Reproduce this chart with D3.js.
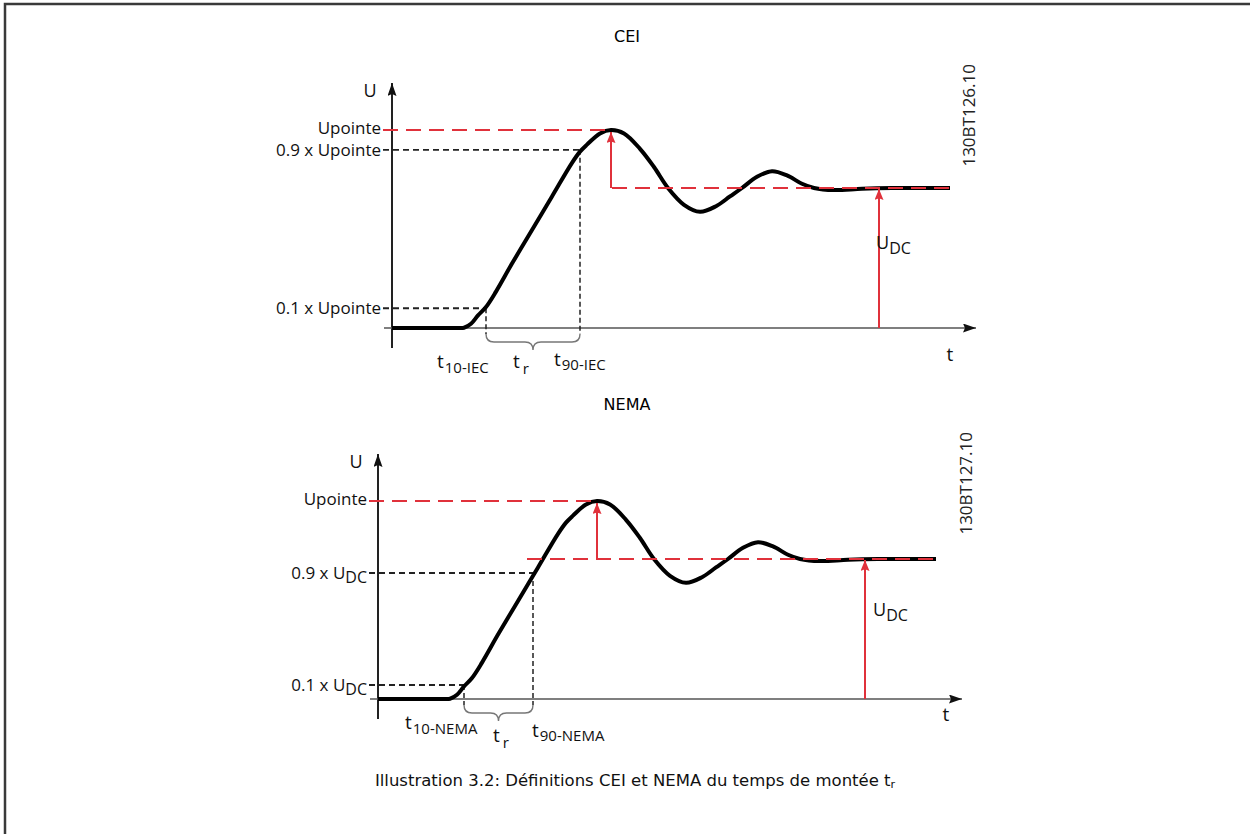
<!DOCTYPE html>
<html>
<head>
<meta charset="utf-8">
<script src="https://cdn.jsdelivr.net/npm/d3@7"></script>
<style>
  body { margin: 0; background: #fff; }
  svg { display: block; }
</style>
</head>
<body>
<svg id="chart" width="1250" height="834"></svg>
<script>
// Waveform (same shape in both panels): time offset from the U axis, voltage in U_DC units
const tPoints = [0, 40, 66, 72, 79, 86, 94, 104, 120, 140, 160, 180, 188, 195, 208, 219, 232, 248, 262, 276, 292, 308, 324, 338, 350, 365, 380, 395, 410, 422, 442, 470, 500, 530, 558];
const uPoints = [0, 0, 0, 0.002, 0.03, 0.09, 0.15, 0.26, 0.46, 0.70, 0.94, 1.18, 1.26, 1.31, 1.39, 1.414, 1.39, 1.28, 1.15, 1.0, 0.88, 0.83, 0.87, 0.94, 1.0, 1.08, 1.12, 1.09, 1.03, 1.0, 0.985, 0.995, 1.0, 1.0, 1.0];

const titles = ["CEI", "NEMA"];
const codes = ["130BT126.10", "130BT127.10"];
const uPeak = 1.414;
const uDC = 1.0;
const tPeak = 219;
const tDC = 487;
const tEnd = 558;
const tAxisEnd = 584;
const lowLevels = [0.141, 0.1];    // 0.1 x Upointe, 0.1 x UDC
const highLevels = [1.273, 0.9];   // 0.9 x Upointe, 0.9 x UDC
const t10 = [94, 86];
const t90 = [188, 155];
const dcDashStart = [220, 149];
const levelLabels = [
  ["Upointe", "0.9 x Upointe", "0.1 x Upointe"],
  ["Upointe", "0.9 x U|DC", "0.1 x U|DC"]
];
const timeLabels = [["10-IEC", "90-IEC"], ["10-NEMA", "90-NEMA"]];
const caption = "Illustration 3.2: Définitions CEI et NEMA du temps de montée t";

const wave = tPoints.map((t, i) => ({t: t, u: uPoints[i]}));

// panel layout
const panels = [
  {ox: 392, base: 328, titleY: 42, codeX: 975, codeY: 64, tLab: [558, 33],
   t10Lab: [437, 40], trLab: [513, 40], t90Lab: [554, 38], dcLab: [-3, -79]},
  {ox: 378, base: 699, titleY: 410, codeX: 972, codeY: 432, tLab: [568, 22],
   t10Lab: [405, 30], trLab: [493, 43], t90Lab: [532, 38], dcLab: [8, -83]}
];

const red = "#e0313b";
const svg = d3.select("#chart");

// frame
svg.append("path")
  .attr("d", "M5,834V4H1250")
  .attr("fill", "none")
  .attr("stroke", "#3a3a3a")
  .attr("stroke-width", 2.5);

const defs = svg.append("defs");
function addMarker(id, color, w, h) {
  defs.append("marker")
    .attr("id", id)
    .attr("markerUnits", "userSpaceOnUse")
    .attr("viewBox", `0 ${-w/2} ${h} ${w}`)
    .attr("refX", h).attr("refY", 0)
    .attr("markerWidth", h).attr("markerHeight", w)
    .attr("orient", "auto")
    .append("path")
    .attr("d", `M0,${-w/2}L${h},0L0,${w/2}L${h*0.15},0Z`)
    .attr("fill", color);
}
addMarker("axisArrow", "#111", 9, 13);
addMarker("redArrow", red, 9, 11);

function subText(g, x, y, main, sub, size, subSize, dy, gap) {
  const t = g.append("text")
    .attr("x", x).attr("y", y)
    .attr("font-family", "'Open Sans', sans-serif")
    .attr("font-size", size)
    .attr("fill", "#111");
  t.append("tspan").text(main);
  t.append("tspan").attr("dx", gap || 0).attr("dy", dy).attr("font-size", subSize).text(sub);
  return t;
}

panels.forEach((p, k) => {
  const x = d3.scaleLinear().domain([0, 600]).range([p.ox, p.ox + 600]);
  const y = d3.scaleLinear().domain([0, 1]).range([p.base, p.base - 140]);
  const g = svg.append("g");

  // title
  g.append("text")
    .attr("x", 627).attr("y", p.titleY)
    .attr("text-anchor", "middle")
    .attr("font-family", "'DejaVu Sans', sans-serif")
    .attr("font-size", 16)
    .text(titles[k]);

  // code, rotated
  g.append("text")
    .attr("transform", `translate(${p.codeX},${p.codeY}) rotate(-90)`)
    .attr("text-anchor", "end")
    .attr("font-family", "'Open Sans', sans-serif")
    .attr("font-size", 17)
    .attr("fill", "#222")
    .text(codes[k]);

  // axes
  g.append("line")
    .attr("x1", x(0)).attr("x2", x(0))
    .attr("y1", p.base + 20).attr("y2", y(uPeak) - 47)
    .attr("stroke", "#222").attr("stroke-width", 2)
    .attr("marker-end", "url(#axisArrow)");
  g.append("line")
    .attr("x1", x(0) - 8).attr("x2", x(tAxisEnd))
    .attr("y1", y(0)).attr("y2", y(0))
    .attr("stroke", "#555").attr("stroke-width", 1.6)
    .attr("marker-end", "url(#axisArrow)");

  g.append("text")
    .attr("x", x(0) - 22).attr("y", p.base - 231)
    .attr("text-anchor", "middle")
    .attr("font-family", "'Open Sans', sans-serif")
    .attr("font-size", 18).attr("fill", "#111")
    .text("U");
  g.append("text")
    .attr("x", x(p.tLab[0])).attr("y", p.base + p.tLab[1])
    .attr("text-anchor", "middle")
    .attr("font-family", "'Open Sans', sans-serif")
    .attr("font-size", 19).attr("fill", "#111")
    .text("t");

  // black dashed guides for 10% / 90%
  const guides = [[lowLevels[k], t10[k]], [highLevels[k], t90[k]]];
  guides.forEach(([lv, tt]) => {
    g.append("path")
      .attr("d", `M${x(0) - 9},${y(lv)}H${x(tt)}`)
      .attr("fill", "none").attr("stroke", "#222")
      .attr("stroke-width", 1.8).attr("stroke-dasharray", "6,4");
    g.append("path")
      .attr("d", `M${x(tt)},${y(lv)}V${p.base + 6}`)
      .attr("fill", "none").attr("stroke", "#222")
      .attr("stroke-width", 1.5).attr("stroke-dasharray", "5,3");
  });

  // waveform
  const line = d3.line().x(d => x(d.t)).y(d => y(d.u)).curve(d3.curveCatmullRom.alpha(0.5));
  g.append("path")
    .datum(wave)
    .attr("d", line)
    .attr("fill", "none")
    .attr("stroke", "#000")
    .attr("stroke-width", 4)
    .attr("stroke-linejoin", "round");

  // red dashed levels (drawn over the curve)
  g.append("path")
    .attr("d", `M${x(0) - 9},${y(uPeak)}H${x(tPeak)}`)
    .attr("fill", "none").attr("stroke", red)
    .attr("stroke-width", 2).attr("stroke-dasharray", "15,8");
  g.append("path")
    .attr("d", `M${x(dcDashStart[k])},${y(uDC)}H${x(tEnd)}`)
    .attr("fill", "none").attr("stroke", red)
    .attr("stroke-width", 2).attr("stroke-dasharray", "15,8");

  // red arrows
  g.append("line")
    .attr("x1", x(tPeak)).attr("x2", x(tPeak))
    .attr("y1", y(uDC)).attr("y2", y(uPeak) + 2)
    .attr("stroke", red).attr("stroke-width", 2)
    .attr("marker-end", "url(#redArrow)");
  g.append("line")
    .attr("x1", x(tDC)).attr("x2", x(tDC))
    .attr("y1", y(0)).attr("y2", y(uDC) + 1)
    .attr("stroke", red).attr("stroke-width", 2)
    .attr("marker-end", "url(#redArrow)");

  // brace between t10 and t90
  const bx1 = x(t10[k]), bx2 = x(t90[k]), bm = (bx1 + bx2) / 2;
  const yT = p.base + 6, yF = p.base + 14, yP = p.base + 22;
  g.append("path")
    .attr("d", `M${bx1},${yT}Q${bx1},${yF} ${bx1 + 8},${yF}H${bm - 8}Q${bm},${yF} ${bm},${yP}` +
               `Q${bm},${yF} ${bm + 8},${yF}H${bx2 - 8}Q${bx2},${yF} ${bx2},${yT}`)
    .attr("fill", "none").attr("stroke", "#777").attr("stroke-width", 1.4);

  // level labels (the peak label sits a touch higher)
  const levels = [uPeak, highLevels[k], lowLevels[k]];
  levels.forEach((lv, i) => {
    const parts = levelLabels[k][i].split("|");
    const t = g.append("text")
      .attr("x", x(0) - 11).attr("y", y(lv) + (i === 0 ? 4 : 6))
      .attr("text-anchor", "end")
      .attr("font-family", "'Open Sans', sans-serif")
      .attr("font-size", 17).attr("fill", "#111");
    t.append("tspan").text(parts[0]);
    if (parts[1]) t.append("tspan").attr("dy", 4).attr("font-size", 16).text(parts[1]);
  });

  // time labels
  subText(g, p.t10Lab[0], p.base + p.t10Lab[1], "t", timeLabels[k][0], 19, 15, 5, 1);
  subText(g, p.trLab[0], p.base + p.trLab[1], "t", "r", 19, 15, 6, 3);
  subText(g, p.t90Lab[0], p.base + p.t90Lab[1], "t", timeLabels[k][1], 19, 15, 4, 1);

  // U_DC label
  subText(g, x(tDC) + p.dcLab[0], y(0) + p.dcLab[1], "U", "DC", 18, 16, 5, 0);
});

// caption
const cap = svg.append("text")
  .attr("x", 635).attr("y", 786)
  .attr("text-anchor", "middle")
  .attr("font-family", "'DejaVu Sans', sans-serif")
  .attr("font-size", 16.5)
  .attr("fill", "#111");
cap.append("tspan").text(caption);
cap.append("tspan").attr("dy", 2).attr("font-size", 11).text("r");
</script>
</body>
</html>
